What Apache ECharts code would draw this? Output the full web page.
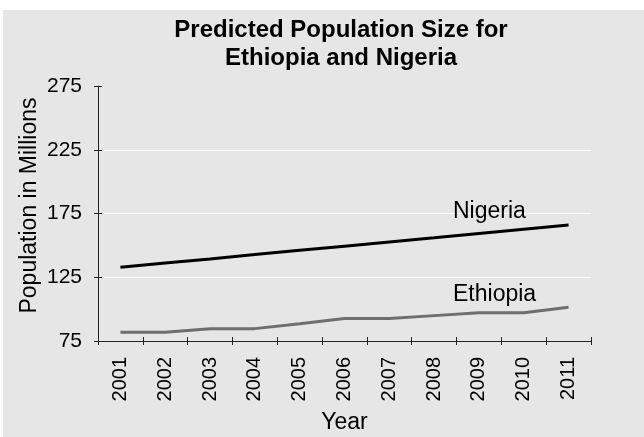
<!DOCTYPE html>
<html>
<head>
<meta charset="utf-8">
<script src="https://cdn.jsdelivr.net/npm/echarts@6/dist/echarts.min.js"></script>
<style>html,body{margin:0;padding:0;background:#fff;}#c{width:644px;height:437px;}</style>
</head>
<body>
<div id="c"></div>
<script>
const years = ['2001','2002','2003','2004','2005','2006','2007','2008','2009','2010','2011'];
const nigeria = [132.8, 136.1, 139.4, 142.8, 146.1, 149.4, 152.7, 156.0, 159.4, 162.7, 166.0];
const ethiopia = [81.8, 81.8, 84.7, 84.7, 88.5, 92.6, 92.6, 94.9, 97.2, 97.2, 101.4];
const yMin = 75, yMax = 275, yStep = 50;
const titleText = 'Predicted Population Size for\nEthiopia and Nigeria';
const yTitle = 'Population in Millions';
const xTitle = 'Year';

const narrow = '"Liberation Sans Narrow", "Arial Narrow", "Liberation Sans", Arial, sans-serif';
const sans = '"Liberation Sans", Arial, Helvetica, sans-serif';
const axisColor = '#222';

const chart = echarts.init(document.getElementById('c'), null, {renderer: 'canvas'});
chart.setOption({
  backgroundColor: '#ffffff',
  animation: false,
  graphic: [
    {type: 'rect', z: -10, silent: true, shape: {x: 3, y: 10, width: 641, height: 427}, style: {fill: '#e6e6e6'}},
    {type: 'text', z: 10, x: 453, y: 212, style: {text: 'Nigeria', font: '23px ' + sans, fill: '#000', textAlign: 'left', textVerticalAlign: 'middle'}},
    {type: 'text', z: 10, x: 453, y: 295, style: {text: 'Ethiopia', font: '23px ' + sans, fill: '#000', textAlign: 'left', textVerticalAlign: 'middle'}}
  ],
  title: {
    text: titleText,
    left: 341, top: 16, padding: 0,
    textAlign: 'center',
    textStyle: {fontFamily: sans, fontWeight: 'bold', fontSize: 24, lineHeight: 28, color: '#000'}
  },
  grid: {left: 98, right: 53, top: 86, bottom: 96, containLabel: false, outerBoundsMode: 'none'},
  xAxis: [
    {
      type: 'category', data: years, position: 'bottom', boundaryGap: true,
      name: xTitle, nameLocation: 'middle', nameGap: 70, nameMoveOverlap: false,
      nameTextStyle: {fontFamily: sans, fontSize: 23, color: '#000'},
      axisLine: {show: true, lineStyle: {color: axisColor, width: 1}},
      axisTick: {show: true, inside: false, length: 4, alignWithLabel: false, lineStyle: {color: axisColor}},
      axisLabel: {rotate: 90, margin: 16, fontFamily: narrow, fontSize: 20, color: '#000', interval: 0},
      splitLine: {show: false}
    },
    {
      type: 'category', data: years, position: 'bottom', boundaryGap: true,
      axisLine: {show: false},
      axisTick: {show: true, inside: true, length: 4, lineStyle: {color: axisColor}},
      axisLabel: {show: false},
      splitLine: {show: false}
    }
  ],
  yAxis: [
    {
      type: 'value', position: 'left', min: yMin, max: yMax, interval: yStep,
      name: yTitle, nameLocation: 'middle', nameGap: 57, nameMoveOverlap: false,
      nameTextStyle: {fontFamily: sans, fontSize: 23, color: '#000', padding: [0, 0, 0, 16]},
      axisLine: {show: true, lineStyle: {color: axisColor, width: 1}},
      axisTick: {show: true, inside: false, length: 4, lineStyle: {color: axisColor}},
      axisLabel: {margin: 16, fontFamily: narrow, fontSize: 21, color: '#000'},
      splitLine: {show: true, showMinLine: false, showMaxLine: false, lineStyle: {color: '#ffffff', width: 1}}
    },
    {
      type: 'value', position: 'left', min: yMin, max: yMax, interval: yStep,
      axisLine: {show: false},
      axisTick: {show: true, inside: true, length: 4, lineStyle: {color: axisColor}},
      axisLabel: {show: false},
      splitLine: {show: false}
    }
  ],
  series: [
    {
      name: 'Nigeria', type: 'line', data: nigeria, xAxisIndex: 0, yAxisIndex: 0,
      symbol: 'none', lineStyle: {color: '#000000', width: 3}, z: 3
    },
    {
      name: 'Ethiopia', type: 'line', data: ethiopia, xAxisIndex: 0, yAxisIndex: 0,
      symbol: 'none', lineStyle: {color: '#6e6e6e', width: 3}, z: 2
    }
  ]
});
</script>
</body>
</html>
